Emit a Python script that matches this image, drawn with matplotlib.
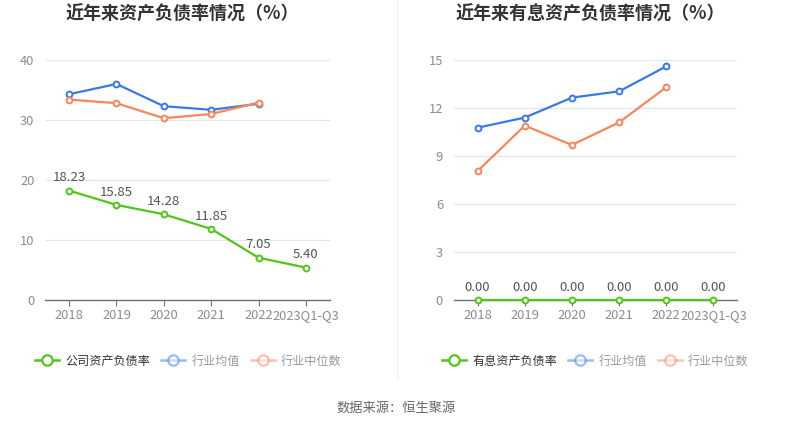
import matplotlib
matplotlib.use("Agg")
import matplotlib.pyplot as plt
from matplotlib.lines import Line2D

plt.rcParams['font.family'] = ['Noto Sans CJK SC', 'DejaVu Sans']

categories = ["2018", "2019", "2020", "2021", "2022", "2023Q1-Q3"]

# Left chart
company_debt = [18.23, 15.85, 14.28, 11.85, 7.05, 5.40]
industry_avg = [34.3, 36.0, 32.3, 31.7, 32.7]
industry_med = [33.4, 32.8, 30.3, 31.0, 32.9]

# Right chart
company_int_debt = [0.00, 0.00, 0.00, 0.00, 0.00, 0.00]
industry_int_avg = [10.77, 11.4, 12.65, 13.04, 14.6]
industry_int_med = [8.06, 10.9, 9.69, 11.1, 13.3]

left_title = "近年来资产负债率情况（%）"
right_title = "近年来有息资产负债率情况（%）"
left_legend = ["公司资产负债率", "行业均值", "行业中位数"]
right_legend = ["有息资产负债率", "行业均值", "行业中位数"]
source = "数据来源：恒生聚源"

GREEN = "#52c41a"
BLUE = "#3a78e6"
ORANGE = "#f5875a"
GRID = "#e0e6f1"
TICK = "#8c8c8c"

W, H = 793, 428
fig = plt.figure(figsize=(W/100, H/100), dpi=100)

def fx(px):
    return px / W

def fy(py):
    return 1 - py / H

def draw(ax, main, avg, med, ymax, yticks, legend_labels, legend_x):
    x = list(range(len(categories)))
    ax.set_xlim(-0.5, len(categories) - 0.5)
    ax.set_ylim(0, ymax)
    ax.set_yticks(yticks)
    ax.grid(axis='y', color=GRID, linewidth=0.8)
    ax.set_axisbelow(True)
    for s in ['top', 'right', 'left']:
        ax.spines[s].set_visible(False)
    ax.spines['bottom'].set_color("#6e7079")
    ax.spines['bottom'].set_linewidth(1.0)
    ax.tick_params(axis='y', length=0, labelcolor=TICK, labelsize=9.3, pad=8)
    ax.tick_params(axis='x', length=4, color="#6e7079", labelcolor=TICK, labelsize=9.3, pad=1)
    ax.set_xticks(x)
    ax.set_xticklabels(categories)
    for lbl in ax.get_xticklabels():
        lbl.set_va('baseline')
        lbl.set_y(-0.05)
    mk = dict(marker='o', markersize=4.2, markerfacecolor='white', markeredgewidth=1.4)
    ax.plot(x[:len(avg)], avg, color=BLUE, linewidth=1.6, markeredgecolor=BLUE, zorder=3, **mk)
    ax.plot(x[:len(med)], med, color=ORANGE, linewidth=1.6, markeredgecolor=ORANGE, zorder=3, **mk)
    ax.plot(x, main, color=GREEN, linewidth=1.6, markeredgecolor=GREEN, zorder=4, clip_on=False, **mk)
    for xi, v in zip(x, main):
        ax.annotate(f"{v:.2f}", (xi, v), xytext=(0, 4.5), textcoords='offset points',
                    ha='center', va='bottom', fontsize=9.5, color="#555555")
    handles = [
        Line2D([0], [0], color=GREEN, linewidth=1.8, marker='o', markersize=7.5,
               markerfacecolor='white', markeredgecolor=GREEN, markeredgewidth=1.6),
        Line2D([0], [0], color=BLUE, alpha=0.5, linewidth=1.8, marker='o', markersize=7.5,
               markerfacecolor='white', markeredgecolor=BLUE, markeredgewidth=1.6),
        Line2D([0], [0], color=ORANGE, alpha=0.5, linewidth=1.8, marker='o', markersize=7.5,
               markerfacecolor='white', markeredgecolor=ORANGE, markeredgewidth=1.6),
    ]
    leg = fig.legend(handles, legend_labels, loc='center left',
                     bbox_to_anchor=(fx(legend_x), fy(361)), ncol=3, frameon=False,
                     fontsize=8.7, handlelength=2.0, handletextpad=0.5, columnspacing=0.9,
                     borderpad=0, borderaxespad=0)
    cols = ["#333333", "#999999", "#999999"]
    for t, c in zip(leg.get_texts(), cols):
        t.set_color(c)

top, bottom = 60, 300
axL = fig.add_axes([fx(45.5), fy(bottom), fx(329.5 - 45.5), (bottom - top) / H])
axR = fig.add_axes([fx(454), fy(bottom), fx(737 - 454), (bottom - top) / H])

draw(axL, company_debt, industry_avg, industry_med, 40, [0, 10, 20, 30, 40],
     left_legend, 35)
draw(axR, company_int_debt, industry_int_avg, industry_int_med, 15, [0, 3, 6, 9, 12, 15],
     right_legend, 442)

fig.text(fx(182), fy(14), left_title, ha='center', va='center', fontsize=13,
         fontweight='bold', color="#333333")
fig.text(fx(590), fy(14), right_title, ha='center', va='center', fontsize=13,
         fontweight='bold', color="#333333")

# divider
fig.add_artist(Line2D([fx(397), fx(397)], [fy(0), fy(378)], color="#f0f0f0", linewidth=1))

fig.text(fx(396), fy(408), source, ha='center', va='center', fontsize=9.5, color="#666666")

fig.savefig("out.png", dpi=100)
